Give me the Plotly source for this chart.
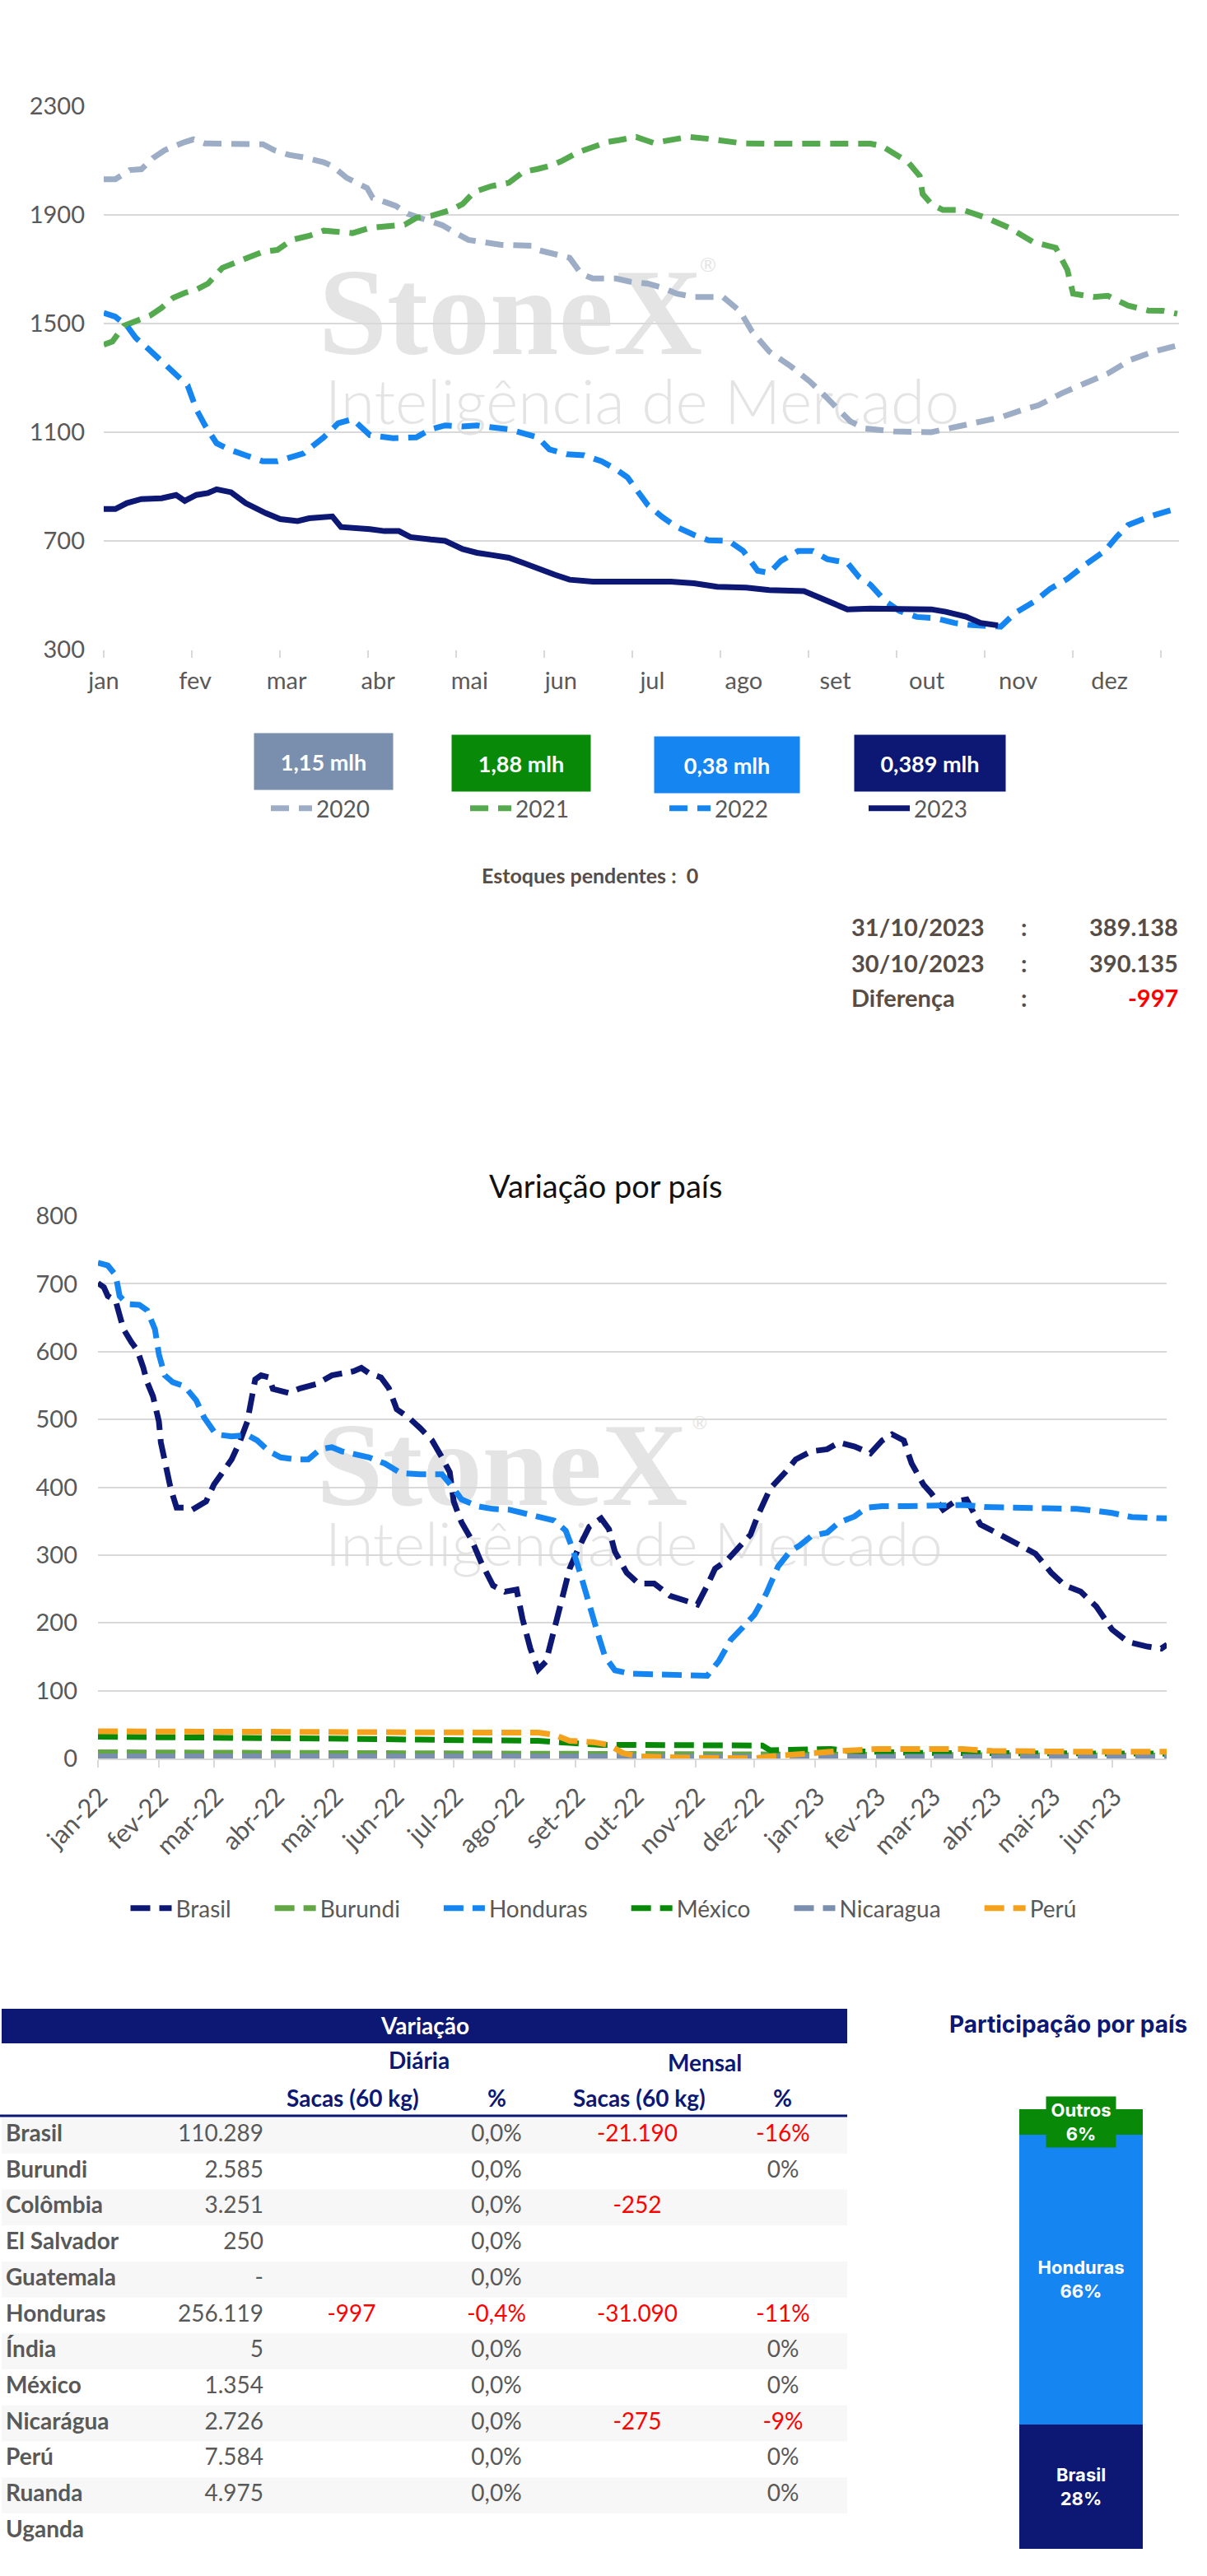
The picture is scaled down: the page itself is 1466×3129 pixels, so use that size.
import plotly.graph_objects as go
import pandas as pd

W, H = 1466, 3129

# ---------------- Chart 1: estoques por ano (mil sacas), eixo = dia do ano ----------------
year_names = ["2020", "2021", "2022", "2023"]
box_labels = ["1,15 mlh", "1,88 mlh", "0,38 mlh", "0,389 mlh"]
months_1 = ["jan", "fev", "mar", "abr", "mai", "jun", "jul", "ago", "set", "out", "nov", "dez"]

d2020 = [0, 4, 9, 13, 17, 21, 28, 31, 35, 49, 55, 59, 64, 69, 76, 79, 84, 91, 93, 97, 101, 105, 112, 117, 121, 126,
         137, 142, 148, 150, 156, 161, 165, 169, 177, 182, 188, 193, 198, 204, 214, 220, 224, 230, 237, 244, 249, 254,
         258, 263, 273, 286, 294, 302, 310, 318, 323, 331, 339, 347, 355, 363, 371]
v2020 = [2031, 2031, 2065, 2068, 2109, 2138, 2168, 2178, 2163, 2163, 2160, 2138, 2121, 2112, 2094, 2080, 2036, 1999,
         1962, 1948, 1933, 1904, 1881, 1862, 1837, 1808, 1790, 1790, 1786, 1771, 1757, 1742, 1683, 1666, 1666, 1654,
         1647, 1632, 1610, 1598, 1598, 1544, 1471, 1397, 1346, 1287, 1236, 1184, 1140, 1114, 1103, 1100, 1118, 1133,
         1155, 1184, 1199, 1243, 1279, 1316, 1367, 1397, 1419]

d2021 = [0, 3, 7, 11, 16, 20, 24, 28, 32, 36, 41, 48, 55, 60, 65, 71, 76, 82, 86, 92, 97, 104, 108, 113, 120, 124, 128,
         134, 140, 145, 150, 154, 158, 164, 170, 174, 178, 184, 190, 196, 202, 209, 214, 221, 230, 241, 251, 265, 269,
         273, 278, 282, 283, 286, 290, 297, 305, 313, 321, 329, 333, 335, 342, 347, 354, 361, 366, 371]
v2021 = [1422, 1434, 1492, 1507, 1529, 1558, 1595, 1613, 1625, 1647, 1705, 1735, 1764, 1771, 1808, 1823, 1842, 1837,
         1833, 1852, 1859, 1864, 1889, 1896, 1918, 1940, 1984, 2006, 2018, 2058, 2069, 2080, 2097, 2131, 2153, 2168,
         2175, 2187, 2165, 2175, 2187, 2180, 2175, 2163, 2162, 2163, 2162, 2162, 2153, 2124, 2094, 2043, 1977, 1940,
         1918, 1918, 1889, 1852, 1801, 1779, 1698, 1610, 1598, 1602, 1566, 1548, 1547, 1536]

d2022 = [0, 4, 8, 11, 16, 21, 25, 29, 32, 35, 39, 44, 49, 55, 60, 64, 69, 76, 81, 86, 92, 100, 108, 113, 118, 124, 129,
         134, 140, 145, 150, 154, 160, 166, 172, 177, 181, 184, 188, 193, 198, 204, 209, 216, 221, 226, 230, 234, 240,
         245, 250, 257, 261, 265, 270, 275, 281, 287, 294, 299, 307, 310, 315, 322, 327, 333, 339, 346, 350, 354, 361,
         366, 371]
v2022 = [1539, 1525, 1492, 1448, 1401, 1353, 1316, 1272, 1184, 1125, 1059, 1034, 1015, 993, 993, 1008, 1022, 1081,
         1133, 1148, 1089, 1078, 1081, 1111, 1125, 1121, 1125, 1118, 1111, 1096, 1081, 1037, 1019, 1015, 993, 964, 934,
         890, 832, 788, 751, 722, 702, 700, 663, 590, 582, 626, 663, 663, 633, 619, 567, 538, 479, 442, 420, 416, 398,
         391, 384, 384, 435, 479, 523, 560, 611, 663, 714, 758, 788, 802, 820]

d2023 = [0, 4, 8, 13, 20, 25, 28, 32, 36, 39, 44, 49, 56, 61, 67, 71, 79, 82, 92, 97, 102, 106, 113, 118, 124, 129, 134,
         140, 145, 150, 156, 161, 169, 177, 185, 196, 204, 212, 222, 230, 242, 248, 253, 257, 265, 273, 286, 291, 298,
         303, 309]
v2023 = [817, 817, 839, 854, 857, 869, 847, 869, 876, 890, 879, 839, 802, 780, 773, 783, 790, 751, 743, 736, 736, 714,
         705, 700, 670, 656, 648, 638, 619, 597, 575, 557, 550, 550, 550, 550, 544, 531, 528, 519, 515, 487, 462, 448,
         451, 448, 448, 439, 421, 398, 389]

# ---------------- Chart 2: variação por país (mil sacas), dias desde 01/01/2022 ----------------
start_2 = "2022-01-01"
countries_2 = ["Brasil", "Burundi", "Honduras", "México", "Nicaragua", "Perú"]
months_2 = ["jan-22", "fev-22", "mar-22", "abr-22", "mai-22", "jun-22", "jul-22", "ago-22", "set-22", "out-22",
            "nov-22", "dez-22", "jan-23", "fev-23", "mar-23", "abr-23", "mai-23", "jun-23"]

d_brasil = [0, 3, 5, 9, 11, 13, 17, 20, 23, 25, 28, 31, 32, 34, 37, 40, 44, 48, 55, 59, 64, 68, 72, 76, 78, 80, 83, 87,
            89, 97, 103, 111, 119, 124, 130, 134, 138, 144, 148, 152, 158, 164, 170, 175, 179, 181, 185, 190, 195, 201,
            207, 213, 216, 220, 224, 228, 232, 236, 240, 244, 250, 256, 260, 263, 269, 275, 283, 291, 297, 305, 310,
            314, 320, 326, 332, 336, 342, 350, 355, 363, 371, 377, 385, 393, 399, 404, 410, 414, 420, 424, 430, 436,
            442, 446, 449, 457, 467, 477, 485, 492, 500, 508, 516, 524, 534, 541, 544]
v_brasil = [701, 695, 682, 675, 654, 633, 614, 602, 577, 555, 534, 497, 466, 435, 398, 370, 370, 367, 379, 404, 423,
            441, 466, 497, 528, 559, 565, 562, 545, 539, 546, 552, 565, 568, 571, 576, 568, 562, 546, 515, 503, 487,
            469, 444, 422, 379, 348, 323, 289, 255, 246, 249, 206, 162, 131, 143, 186, 236, 280, 307, 342, 354, 338,
            305, 274, 258, 258, 240, 234, 227, 255, 280, 292, 311, 330, 360, 398, 423, 441, 453, 456, 466, 460, 450,
            469, 478, 469, 435, 404, 391, 367, 379, 382, 360, 345, 333, 317, 302, 274, 255, 246, 224, 190, 172, 165,
            162, 168]

d_burundi = [0, 100, 224, 263, 400, 544]
v_burundi = [9, 8, 7, 6, 5, 4]

d_honduras = [0, 5, 9, 11, 15, 21, 25, 29, 31, 34, 38, 44, 50, 54, 60, 68, 76, 81, 87, 93, 101, 107, 113, 119, 124,
              132, 138, 146, 154, 164, 175, 181, 185, 193, 201, 209, 217, 224, 232, 238, 242, 246, 250, 254, 258, 263,
              271, 287, 295, 305, 310, 316, 322, 328, 334, 340, 346, 352, 357, 363, 371, 377, 385, 391, 399, 412, 428,
              440, 451, 467, 483, 498, 508, 516, 526, 538, 544]
v_honduras = [731, 727, 713, 682, 670, 669, 661, 633, 596, 565, 555, 549, 528, 503, 478, 475, 477, 469, 453, 444, 441,
              441, 456, 459, 453, 447, 444, 435, 421, 419, 419, 398, 382, 372, 368, 367, 362, 357, 351, 336, 305, 267,
              224, 187, 150, 130, 125, 124, 123, 122, 122, 144, 175, 193, 212, 243, 283, 305, 314, 328, 333, 348, 357,
              370, 372, 372, 372, 374, 371, 370, 368, 368, 365, 362, 356, 354, 354]

d_mexico = [0, 68, 126, 185, 224, 240, 256, 271, 303, 338, 342, 365, 373, 381, 420, 544]
v_mexico = [32, 31, 29, 27, 26, 23, 20, 20, 20, 19, 12, 12, 14, 11, 8, 7]

d_nicaragua = [0, 200, 400, 544]
v_nicaragua = [3, 3, 2, 2]

d_peru = [0, 68, 146, 224, 232, 240, 252, 260, 267, 275, 303, 322, 334, 342, 354, 365, 377, 397, 440, 455, 498, 544]
v_peru = [40, 40, 40, 38, 35, 26, 24, 20, 8, 3, 1, 0, 0, 3, 5, 8, 11, 14, 14, 11, 10, 10]

# ---------------- Tabela ----------------
countries = ["Brasil", "Burundi", "Colômbia", "El Salvador", "Guatemala", "Honduras", "Índia", "México",
             "Nicarágua", "Perú", "Ruanda", "Uganda"]
stock = [110289, 2585, 3251, 250, 0, 256119, 5, 1354, 2726, 7584, 4975, None]
daily_bags = [None, None, None, None, None, -997, None, None, None, None, None, None]
daily_pct = [0.0, 0.0, 0.0, 0.0, 0.0, -0.4, 0.0, 0.0, 0.0, 0.0, 0.0, None]
monthly_bags = [-21190, None, -252, None, None, -31090, None, None, -275, None, None, None]
monthly_pct = [-16, 0, None, None, None, -11, 0, 0, -9, 0, 0, None]

date_now, date_prev = "31/10/2023", "30/10/2023"
total_prev = 390135
pending = 0

# ---------------- colours ----------------
NAVY = "#0C1874"
BLUE = "#1585F2"
GREEN_L = "#55AA4F"
GREEN_D = "#088A08"
GREEN_B = "#62A744"
SLATE_L = "#9DADC6"
SLATE = "#7A8FAE"
ORANGE = "#F4A21C"
GRID = "#D9D9D9"
TXT = "#595959"
BROWN = "#574D46"
RED = "#FF0000"
FONT = "Lato"
NBSP = "\u00a0"


def py(p):
    return 1 - p / H


def pxx(p):
    return p / W


fig = go.Figure()

# ---- chart 1 traces
series1 = [(d2020, v2020, SLATE_L, "22px,12px"), (d2021, v2021, GREEN_L, "22px,12px"),
           (d2022, v2022, BLUE, "22px,12px"), (d2023, v2023, NAVY, "solid")]
for name, (d, v, c, dash) in zip(year_names, series1):
    fig.add_trace(go.Scatter(x=d, y=v, mode="lines", name=name, xaxis="x", yaxis="y", legend="legend",
                             line=dict(color=c, width=7, dash=dash), hoverinfo="skip"))

# ---- chart 2 traces
t0 = pd.Timestamp(start_2)
series2 = [(d_brasil, v_brasil, NAVY), (d_burundi, v_burundi, GREEN_B), (d_honduras, v_honduras, BLUE),
           (d_mexico, v_mexico, GREEN_D), (d_nicaragua, v_nicaragua, SLATE), (d_peru, v_peru, ORANGE)]
for k, (name, (d, v, c)) in enumerate(zip(countries_2, series2)):
    dates = t0 + pd.to_timedelta(d, unit="D")
    label = name + (NBSP * 6 if k < len(countries_2) - 1 else "")
    fig.add_trace(go.Scatter(x=dates, y=v, mode="lines", name=label, xaxis="x2", yaxis="y2", legend="legend2",
                             line=dict(color=c, width=7, dash="24px,11px"), hoverinfo="skip"))


# ---- table traces (x in px columns, y = row index)
def fmt_int(v):
    if v is None:
        return ""
    if v == 0:
        return "-"
    return f"{v:,}".replace(",", ".")


rows = list(range(len(countries)))
fig.add_trace(go.Scatter(x=[7] * len(rows), y=rows, mode="text", text=[f"<b>{c}</b>" for c in countries],
                         textposition="middle right", textfont=dict(family=FONT, size=28, color=TXT),
                         xaxis="x3", yaxis="y3", showlegend=False, hoverinfo="skip"))
fig.add_trace(go.Scatter(x=[320] * len(rows), y=rows, mode="text", text=[fmt_int(v) for v in stock],
                         textposition="middle left", textfont=dict(family=FONT, size=28, color=TXT),
                         xaxis="x3", yaxis="y3", showlegend=False, hoverinfo="skip"))
fig.add_trace(go.Scatter(x=[427] * len(rows), y=rows, mode="text",
                         text=[fmt_int(v) if v is not None else "" for v in daily_bags],
                         textposition="middle center",
                         textfont=dict(family=FONT, size=28, color=[RED if (v or 0) < 0 else TXT for v in daily_bags]),
                         xaxis="x3", yaxis="y3", showlegend=False, hoverinfo="skip"))
fig.add_trace(go.Scatter(x=[603] * len(rows), y=rows, mode="text",
                         text=["" if v is None else f"{v:.1f}%".replace(".", ",") for v in daily_pct],
                         textposition="middle center",
                         textfont=dict(family=FONT, size=28, color=[RED if (v or 0) < 0 else TXT for v in daily_pct]),
                         xaxis="x3", yaxis="y3", showlegend=False, hoverinfo="skip"))
fig.add_trace(go.Scatter(x=[774] * len(rows), y=rows, mode="text",
                         text=["" if v is None else f"{v:,}".replace(",", ".") for v in monthly_bags],
                         textposition="middle center",
                         textfont=dict(family=FONT, size=28, color=[RED if (v or 0) < 0 else TXT for v in monthly_bags]),
                         xaxis="x3", yaxis="y3", showlegend=False, hoverinfo="skip"))
fig.add_trace(go.Scatter(x=[951] * len(rows), y=rows, mode="text",
                         text=["" if v is None else f"{v:.0f}%" for v in monthly_pct],
                         textposition="middle center",
                         textfont=dict(family=FONT, size=28, color=[RED if (v or 0) < 0 else TXT for v in monthly_pct]),
                         xaxis="x3", yaxis="y3", showlegend=False, hoverinfo="skip"))

# ---- stacked bar: participação
total = sum(v for v in stock if v)
brasil_share = stock[countries.index("Brasil")] / total * 100
hond_share = stock[countries.index("Honduras")] / total * 100
outros_share = 100 - brasil_share - hond_share
bar_parts = [("Brasil", brasil_share, NAVY), ("Honduras", hond_share, BLUE), ("Outros", outros_share, GREEN_D)]
for name, share, col in bar_parts:
    fig.add_trace(go.Bar(x=[0], y=[share], width=1, marker=dict(color=col, line=dict(width=0)),
                         text=[f"<b>{name}<br>{share:.0f}%</b>"],
                         textposition="inside" if name != "Outros" else "none",
                         insidetextanchor="middle", textangle=0,
                         textfont=dict(family="Inter", size=22, color="white"),
                         xaxis="x4", yaxis="y4", showlegend=False, hoverinfo="skip"))

# ---------------- layout ----------------
tick_font = dict(family=FONT, size=29, color=TXT)
month_starts_2 = list(pd.date_range("2022-01-01", "2023-06-01", freq="MS"))
layout = dict(
    template="none",
    width=W, height=H, margin=dict(l=0, r=0, t=0, b=0, pad=0, autoexpand=False),
    paper_bgcolor="white", plot_bgcolor="rgba(0,0,0,0)",
    barmode="stack",
    font=dict(family=FONT, color=TXT),
    xaxis=dict(domain=[pxx(126), pxx(1432)], range=[0, 371.6], anchor="y", automargin=False,
               tickmode="array", tickvals=[31.6 * i for i in range(12)], ticktext=months_1,
               ticks="", showgrid=False, zeroline=False, showline=False, tickfont=tick_font,
               ticklabelstandoff=18,
               minor=dict(tickmode="array", tickvals=[365.25 / 12 * k for k in range(13)], ticks="outside",
                          ticklen=9, tickwidth=2, tickcolor=GRID, showgrid=False)),
    yaxis=dict(domain=[py(789), py(129)], range=[299.9, 2300.1], anchor="x", automargin=False,
               tickmode="array", tickvals=list(range(300, 2301, 400)),
               showgrid=True, gridcolor=GRID, gridwidth=2, zeroline=False, ticks="", showline=False,
               tickfont=tick_font, ticklabelstandoff=22),
    xaxis2=dict(domain=[pxx(119), pxx(1417)], type="date", anchor="y2", automargin=False,
                range=["2022-01-01", "2023-06-28 18:00"],
                tickmode="array", tickvals=[d + pd.Timedelta(days=1) for d in month_starts_2],
                ticktext=months_2, tickangle=-45, ticks="", showline=True, linecolor=GRID, linewidth=2,
                showgrid=False, zeroline=False,
                tickfont=dict(family=FONT, size=31, color=TXT), ticklabelstandoff=14,
                minor=dict(tickmode="array", tickvals=month_starts_2,
                           ticks="outside", ticklen=9, tickwidth=2, tickcolor=GRID, showgrid=False)),
    yaxis2=dict(domain=[py(2136), py(1477)], range=[-0.1, 800.1], anchor="x2", automargin=False,
                tickmode="array", tickvals=list(range(0, 801, 100)),
                showgrid=True, gridcolor=GRID, gridwidth=2, zeroline=False, ticks="", showline=False,
                tickfont=tick_font, ticklabelstandoff=24),
    xaxis3=dict(domain=[0, 1], range=[0, W], anchor="y3", visible=False, fixedrange=True, automargin=False),
    yaxis3=dict(domain=[0, py(2420)], range=[(3129 - 2594) / 43.7, (2420 - 2594) / 43.7], anchor="x3",
                visible=False, fixedrange=True, automargin=False),
    xaxis4=dict(domain=[pxx(1238), pxx(1388)], range=[-0.5, 0.5], anchor="y4", visible=False, automargin=False),
    yaxis4=dict(domain=[py(3096), py(2561.5)], range=[0, 100], anchor="x4", visible=False, automargin=False),
    legend=dict(orientation="h", x=pxx(324), xanchor="left", y=py(982), yanchor="middle", traceorder="normal",
                font=dict(family=FONT, size=28, color=TXT), entrywidth=177, itemwidth=50,
                bgcolor="rgba(0,0,0,0)"),
    legend2=dict(orientation="h", x=pxx(733), xanchor="center", y=py(2318), yanchor="middle", traceorder="normal",
                 font=dict(family=FONT, size=28, color=TXT), bgcolor="rgba(0,0,0,0)", itemwidth=50),
)
fig.update_layout(**layout)

shapes = []
# watermarks (below traces)
for (x0, x1, y0, y1, txt, fam, size, weight) in [
    (380, 860, 300, 425, "StoneX", "Liberation Serif", 150, "bold"),
    (390, 1170, 440, 530, "Inteligência de Mercado", FONT, 75, 300),
    (370, 850, 1705, 1820, "StoneX", "Liberation Serif", 145, "bold"),
    (380, 1160, 1830, 1915, "Inteligência de Mercado", FONT, 73, 300),
    (845, 875, 305, 335, "®", FONT, 24, "normal"),
    (835, 865, 1712, 1742, "®", FONT, 22, "normal"),
]:
    shapes.append(dict(type="rect", xref="paper", yref="paper", x0=pxx(x0), x1=pxx(x1), y0=py(y1), y1=py(y0),
                       line=dict(width=0), fillcolor="rgba(0,0,0,0)", layer="below",
                       label=dict(text=txt, textposition="middle center",
                                  font=dict(family=fam, size=size, color="#E4E4E4", weight=weight))))
# table bands and header
for i in rows:
    if i % 2 == 0:
        shapes.append(dict(type="rect", xref="x3", yref="y3", x0=2, x1=1029, y0=i - 0.5, y1=i + 0.5,
                           line=dict(width=0), fillcolor="#F7F7F7", layer="below"))
shapes.append(dict(type="rect", xref="x3", yref="y3", x0=2, x1=1029, y0=(2440 - 2594) / 43.7,
                   y1=(2482 - 2594) / 43.7, line=dict(width=0), fillcolor=NAVY, layer="below"))
shapes.append(dict(type="line", xref="x3", yref="y3", x0=0, x1=1029, y0=(2570 - 2594) / 43.7,
                   y1=(2570 - 2594) / 43.7, line=dict(width=3, color=NAVY)))
fig.update_layout(shapes=shapes)

ann = []


def A(x, y, text, size=28, color=TXT, xanchor="center", bold=False, fam=FONT, **kw):
    ann.append(dict(x=pxx(x), y=py(y), xref="paper", yref="paper", text=f"<b>{text}</b>" if bold else text,
                    showarrow=False, xanchor=xanchor, yanchor="middle",
                    font=dict(family=fam, size=size, color=color), **kw))


# value boxes
box_geo = [(393, 925, 168, 68, SLATE), (633, 927, 168, 68, GREEN_D), (883, 929, 176, 68, BLUE),
           (1129, 927, 183, 68, NAVY)]
for lbl, (cx, cy, w, h, col) in zip(box_labels, box_geo):
    A(cx, cy, lbl, size=27, color="white", bold=True, bgcolor=col, width=w, height=h, borderpad=0)

A(716, 1063, f"Estoques pendentes :  {pending}", size=25, color=BROWN, bold=True)
diff = total - total_prev
stats = [(date_now, f"{total:,}".replace(",", "."), BROWN), (date_prev, f"{total_prev:,}".replace(",", "."), BROWN),
         ("Diferença", f"{diff:,}".replace(",", "."), RED)]
for (lab, val, vc), y in zip(stats, [1125, 1169, 1211]):
    A(1032, y, lab, size=29, color=BROWN, bold=True, xanchor="left")
    A(1243, y, ":", size=29, color=BROWN, bold=True)
    A(1433, y, val, size=29, color=vc, bold=True, xanchor="right")

A(735, 1440, "Variação por país", size=38, color="#111111")

# table header
A(516, 2460, "Variação", size=28, color="white", bold=True)
A(509, 2502, "Diária", size=28, color=NAVY, bold=True)
A(856, 2505, "Mensal", size=28, color=NAVY, bold=True)
A(429, 2548, "Sacas (60 kg)", size=28, color=NAVY, bold=True)
A(603, 2548, "%", size=28, color=NAVY, bold=True)
A(776, 2548, "Sacas (60 kg)", size=28, color=NAVY, bold=True)
A(950, 2548, "%", size=28, color=NAVY, bold=True)

A(1297, 2459, "Participação por país", size=28, color=NAVY, bold=True, fam="Inter")

# Outros label box on bar
ann.append(dict(x=0, y=100 - outros_share / 2, xref="x4", yref="y4",
                text=f"<b>Outros<br>{outros_share:.0f}%</b>", showarrow=False, bgcolor=GREEN_D,
                width=84, height=61, borderpad=0, font=dict(family="Inter", size=22, color="white")))

fig.update_layout(annotations=ann)
fig.write_html("out.html", post_script="document.body.style.margin='0px';",
               config={"displayModeBar": False})
